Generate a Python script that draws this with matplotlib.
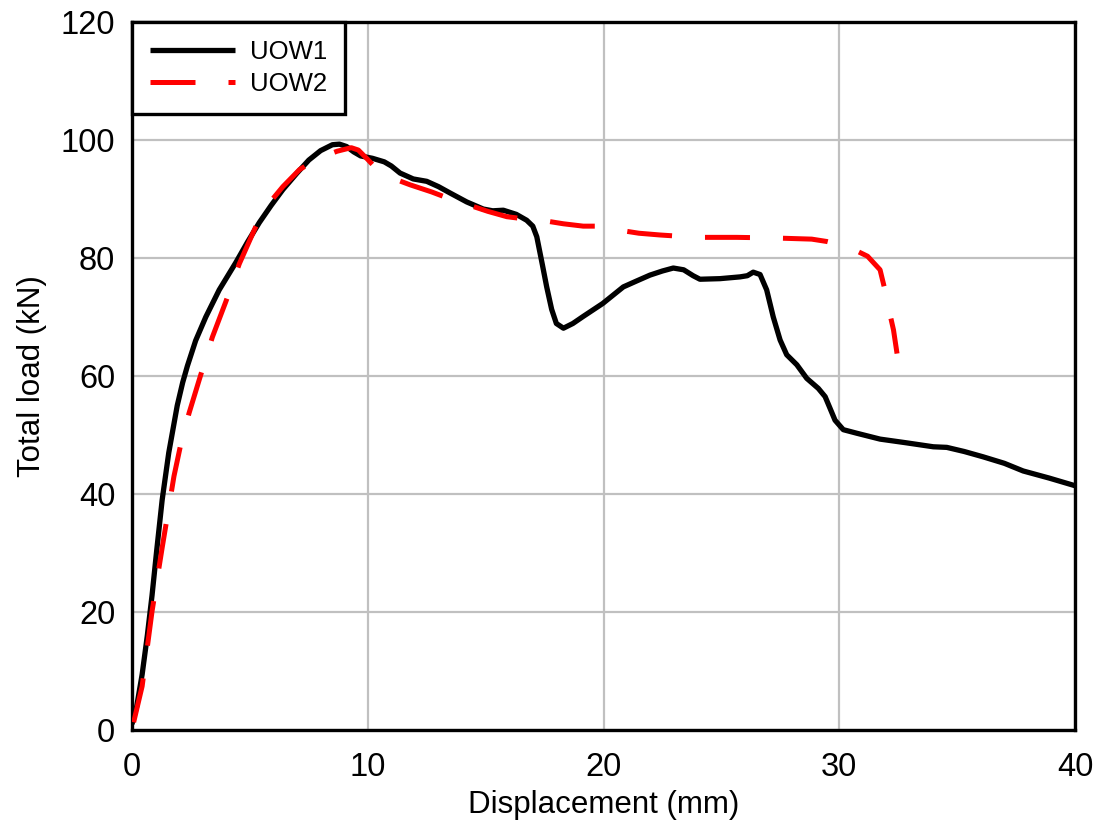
#!/usr/bin/env python
# coding: utf-8

import matplotlib
matplotlib.use('Agg')
import matplotlib.pyplot as plt

# Load-displacement curves
uow1_disp = [0.0, 0.2, 0.43, 0.65, 0.85, 1.05, 1.28, 1.56, 1.92, 2.15, 2.35, 2.7, 3.13, 3.7,
	4.4, 4.9, 5.4, 5.9, 6.4, 7.0, 7.5, 8.0, 8.5, 8.8, 9.1, 9.4, 9.7, 10.2,
	10.7, 11.0, 11.37, 11.93, 12.5, 13.0, 13.5, 14.2, 14.9, 15.3, 15.75, 16.3, 16.74, 17.0,
	17.17, 17.4, 17.59, 17.8, 18.0, 18.3, 18.7, 19.14,
	19.97, 20.84, 21.4, 21.97, 22.5, 22.96, 23.4, 23.8, 24.09, 24.94, 25.79, 26.1, 26.35, 26.64,
	26.92, 27.2, 27.49, 27.77, 28.2, 28.62, 29.11, 29.4, 29.6, 29.82, 30.17, 30.74, 31.73,
	32.8, 33.99, 34.56, 35.3, 36.1, 37.0, 37.8, 38.9, 40.0]
uow1_load = [1.0, 4.0, 9.4, 16.0, 22.8, 30.5, 39.0, 47.0, 55.0, 58.9, 61.7, 66.0, 70.0, 74.6,
	79.2, 82.7, 86.0, 88.9, 91.6, 94.4, 96.6, 98.2, 99.2, 99.3, 98.9, 98.0, 97.3, 96.9,
	96.3, 95.6, 94.4, 93.4, 93.0, 92.1, 91.0, 89.5, 88.3, 88.0, 88.1, 87.4, 86.4, 85.4,
	83.6, 79.0, 75.1, 71.3, 68.9, 68.1, 68.9, 70.1,
	72.3, 75.1, 76.1, 77.1, 77.8, 78.3, 78.0, 77.0, 76.4, 76.5, 76.8, 77.0, 77.6, 77.2,
	74.6, 70.0, 66.1, 63.6, 61.9, 59.6, 57.9, 56.5, 54.6, 52.5, 50.9, 50.3, 49.3,
	48.7, 48.0, 47.9, 47.2, 46.3, 45.2, 43.9, 42.7, 41.4]

uow2_disp = [0.07, 0.43, 0.85, 1.28, 1.78, 2.1, 2.42, 2.84, 3.41, 3.98, 4.55, 5.26, 5.8, 6.4,
	7.11, 7.9, 8.7, 9.3, 9.6, 10.0, 10.4, 11.0, 11.8, 12.71, 13.5, 14.27, 15.1, 15.9,
	16.7, 17.52, 18.3, 19.14, 19.85, 20.7, 21.5, 22.4,
	23.95, 25.65, 27.2, 28.83, 29.47, 30.43, 31.2, 31.73, 31.9, 32.08, 32.3, 32.45]
uow2_load = [1.3, 7.4, 20.1, 30.9, 43.0, 49.0, 53.7, 59.2, 66.6, 72.6, 79.0, 85.4, 89.2, 92.1,
	95.0, 96.9, 98.1, 98.7, 98.3, 96.7, 95.0, 93.6, 92.4, 91.2, 90.0, 89.0, 87.9, 87.0,
	86.6, 86.3, 85.8, 85.4, 85.4, 84.7, 84.2, 83.9,
	83.5, 83.5, 83.4, 83.2, 82.8, 81.8, 80.3, 78.0, 75.2, 71.7, 67.8, 63.8]

x_ticks = [0, 10, 20, 30, 40]
y_ticks = [0, 20, 40, 60, 80, 100, 120]

def main():
	plt.rcParams['font.family'] = ['Liberation Sans', 'DejaVu Sans']

	fig = plt.figure(figsize=(10.99, 8.25), dpi=100)
	ax = fig.add_axes([0.1201, 0.1152, 0.8581, 0.8581])

	ax.plot(uow1_disp, uow1_load, color='black', lw=3.8, label='UOW1', zorder=3,
		solid_joinstyle='round', solid_capstyle='butt')
	ax.plot(uow2_disp, uow2_load, color='red', lw=3.6, dashes=(9.0, 6.6), label='UOW2', zorder=4,
		dash_joinstyle='round')

	ax.set_xlim(0, 40)
	ax.set_ylim(0, 120)
	ax.set_xticks(x_ticks)
	ax.set_yticks(y_ticks)
	ax.tick_params(axis='both', length=0, labelsize=23.5)
	ax.tick_params(axis='x', pad=16)
	ax.tick_params(axis='y', pad=12)
	ax.grid(True, color='#c0c0c0', lw=1.6)
	ax.set_axisbelow(True)
	for s in ax.spines.values():
		s.set_linewidth(2.4)

	ax.set_xlabel('Displacement (mm)', fontsize=22.5, labelpad=5)
	ax.set_ylabel('Total load (kN)', fontsize=22.5, labelpad=10)

	leg = ax.legend(loc='upper left', borderaxespad=0, fontsize=18.5, handlelength=3.3,
		fancybox=False, framealpha=1, edgecolor='black', borderpad=0.7,
		labelspacing=0.3, handletextpad=0.6)
	leg.get_frame().set_linewidth(2.4)

	fig.savefig('out.png', dpi=100)

#--------------------------------------------------------------------

if '__main__' == __name__:
	main()
